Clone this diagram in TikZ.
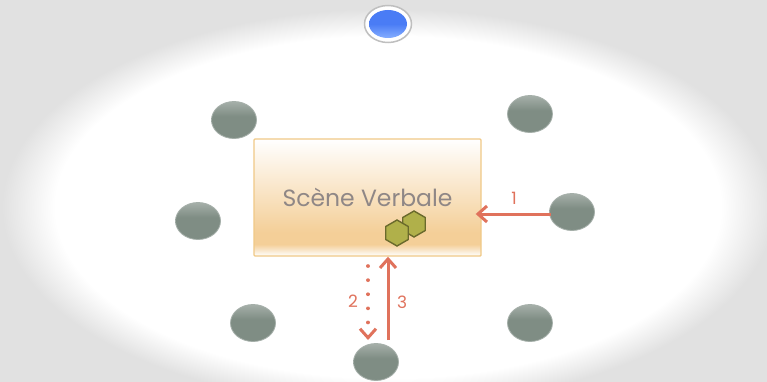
\documentclass[tikz,border=0pt]{standalone}
\usepackage{fontspec}
\setmainfont{Poppins}
\usetikzlibrary{positioning,shapes.geometric,arrows.meta}
\definecolor{hallgray}{HTML}{E1E1E1}
\definecolor{sceneorange}{HTML}{F4CF98}
\definecolor{sceneline}{HTML}{F0C987}
\definecolor{scenetext}{HTML}{8F8786}
\definecolor{arrowred}{HTML}{E0725C}
\definecolor{seatgreen}{HTML}{7F8D84}
\definecolor{hexgreen}{HTML}{B0B04A}
\definecolor{speakertop}{HTML}{4A7CF5}
\definecolor{speakerlow}{HTML}{86AEFF}
\pgfdeclareradialshading{hallfade}{\pgfpoint{0bp}{0bp}}{color(0bp)=(white); color(20bp)=(white); color(23.2bp)=(hallgray); color(50bp)=(hallgray)}
\pgfdeclareverticalshading{scenefade}{100bp}{color(0bp)=(white); color(25bp)=(white); color(30bp)=(sceneorange); color(35bp)=(sceneorange); color(75bp)=(white); color(100bp)=(white)}
\pgfdeclareverticalshading{seatfade}{100bp}{color(0bp)=(seatgreen); color(55bp)=(seatgreen); color(75bp)=(seatgreen!70!white); color(100bp)=(seatgreen!70!white)}
\pgfdeclareverticalshading{speakerfade}{100bp}{color(0bp)=(speakerlow); color(25bp)=(speakerlow); color(50bp)=(speakertop); color(75bp)=(speakertop); color(100bp)=(speakertop)}

\begin{document}
\begin{tikzpicture}[
        x=1pt, y=-1pt,
        seatnode/.style={ellipse, shading=seatfade, draw=seatgreen!70!white, thick, minimum width=45pt, minimum height=37pt, inner sep=0pt},
        scenenode/.style={rectangle, rounded corners=1pt, shading=scenefade, draw=sceneline, line width=1.4pt, minimum width=227pt, minimum height=117pt, text=scenetext, font=\fontsize{23.5}{26}\selectfont},
        hexnode/.style={regular polygon, regular polygon sides=6, shape border rotate=30, draw=hexgreen!60!black, fill=hexgreen, line width=1.4pt, minimum size=26pt, inner sep=0pt},
        speech/.style={-{Straight Barb[length=9pt,width=16pt,line width=3pt]}, draw=arrowred, line width=3pt},
        numlabel/.style={text=arrowred, font=\fontsize{17}{18}\selectfont, inner sep=0pt},
]
        \clip (0,0) rectangle (767,382);
        \fill[hallgray] (0,0) rectangle (767,382);
        \shade[shading=hallfade] (388,207) ellipse (416 and 214);

        \node[ellipse, draw=black!25, fill=white, line width=1.5pt, minimum width=47pt, minimum height=37pt, inner sep=0pt] (speakerring) at (388,24) {};
        \node[ellipse, shading=speakerfade, minimum width=38pt, minimum height=28pt, inner sep=0pt] (speaker) at (388,24) {};

        \node[scenenode] (scene) at (367.5,197.5) {Scène Verbale};
        \node[hexnode] (hexb) at (414,224) {};
        \node[hexnode] (hexa) at (397,233) {};

        \node[seatnode] (seatnw) at (234,120) {};
        \node[seatnode] (seatne) at (530,114) {};
        \node[seatnode] (seatw) at (198,221) {};
        \node[seatnode] (seate) at (572,212) {};
        \node[seatnode] (seatsw) at (253,323) {};
        \node[seatnode] (seatse) at (530,323) {};
        \node[seatnode] (seats) at (376,362) {};

        \coordinate (startb) at (368,266);
        \coordinate (endb) at (368,340);
        \coordinate (startc) at (388,340);
        \coordinate (starta) at (551,214);

        \draw[speech, shorten >=-6pt] (starta) -- (scene.east |- starta);
        \draw[speech, line width=3.6pt, line cap=round, dash pattern=on 0.1pt off 14pt] (startb) -- (endb);
        \draw[speech] (startc) -- (scene.south -| startc);

        \node[numlabel] (labela) at (514,198) {1};
        \node[numlabel] (labelb) at (353,301) {2};
        \node[numlabel] (labelc) at (402,302) {3};
    \end{tikzpicture}
\end{document}
